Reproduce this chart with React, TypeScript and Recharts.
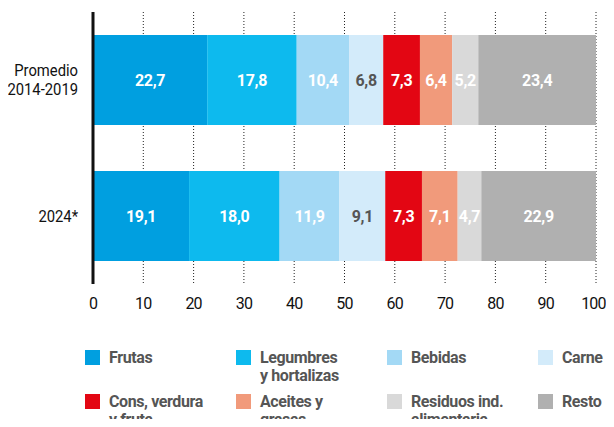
import { BarChart, Bar, XAxis, YAxis, CartesianGrid, LabelList } from 'recharts'

const periods = ['Promedio\n2014-2019', '2024*']
const seriesNames = [
  'Frutas',
  'Legumbres\ny hortalizas',
  'Bebidas',
  'Carne',
  'Cons, verdura\ny fruta',
  'Aceites y\ngrasas',
  'Residuos ind.\nalimentaria',
  'Resto',
]
const seriesKeys = ['frutas', 'legumbres', 'bebidas', 'carne', 'cons', 'aceites', 'residuos', 'resto']
const promedio = [22.7, 17.8, 10.4, 6.8, 7.3, 6.4, 5.2, 23.4]
const y2024 = [19.1, 18.0, 11.9, 9.1, 7.3, 7.1, 4.7, 22.9]
const colors = ['#009fe0', '#0dbaee', '#a3d9f5', '#d3ebfa', '#e30613', '#f19a7b', '#d9d9d9', '#b0b0b0']
const labelColors = ['#fff', '#fff', '#fff', '#555', '#fff', '#fff', '#fff', '#fff']
const xTicks = [0, 10, 20, 30, 40, 50, 60, 70, 80, 90, 100]

const rows = [promedio, y2024]
const data = periods.map((p, i) => {
  const row: Record<string, string | number> = { period: p }
  seriesKeys.forEach((k, j) => { row[k] = rows[i][j] })
  return row
})

const FONT = 'Roboto, "Noto Sans", sans-serif'

// condensed look: squeeze the period labels horizontally
const PeriodTick = (props: any) => {
  const { x, y, payload } = props
  const lines = String(payload.value).split('\n')
  const start = -((lines.length - 1) * 19) / 2
  return (
    <g transform={`translate(${x},${y}) scale(0.87,1)`}>
      <text x={0} y={0} textAnchor="end" fontFamily={FONT} fontSize={17} fill="#111">
        {lines.map((l, i) => (
          <tspan key={i} x={0} y={start + i * 19} dy="0.35em">{l}</tspan>
        ))}
      </text>
    </g>
  )
}

const fmt = (v: any) => Number(v).toFixed(1).replace('.', ',')

export default function App() {
  return (
    <div style={{ width: 598, height: 411, position: 'relative', fontFamily: FONT }}>
      <BarChart
        width={598}
        height={330}
        data={data}
        layout="vertical"
        margin={{ top: 4, right: 10, left: 0, bottom: 30 }}
        barSize={90}
      >
        <CartesianGrid vertical horizontal={false} stroke="#222" strokeDasharray="1 2" />
        <XAxis
          type="number"
          domain={[0, 100]}
          ticks={xTicks}
          allowDataOverflow
          axisLine={false}
          tickLine={false}
          tick={{ fill: '#111', fontSize: 16, fontFamily: FONT, letterSpacing: -0.8 }}
          tickMargin={8}
          height={24}
        />
        <YAxis
          type="category"
          dataKey="period"
          width={85}
          axisLine={{ stroke: '#111', strokeWidth: 3 }}
          tickLine={false}
          tick={<PeriodTick />}
          tickMargin={9}
        />
        {seriesKeys.map((k, j) => (
          <Bar key={k} dataKey={k} stackId="a" fill={colors[j]} isAnimationActive={false}>
            <LabelList
              dataKey={k}
              position="center"
              formatter={fmt}
              fill={labelColors[j]}
              style={{ fontSize: 16, fontWeight: 700, fontFamily: FONT, letterSpacing: -0.3 }}
            />
          </Bar>
        ))}
      </BarChart>
      <div style={{ position: 'absolute', left: 77, top: 341, width: 540, display: 'grid', gridTemplateColumns: 'repeat(4, 151px)' }}>
        {seriesNames.map((n, j) => (
          <div key={n} style={{ display: 'flex', alignItems: 'flex-start', height: 44 }}>
            <div style={{ width: 15, height: 15, background: colors[j], marginTop: 1, marginRight: 9, flexShrink: 0 }} />
            <div style={{ whiteSpace: 'pre', fontSize: 16, fontWeight: 700, lineHeight: '18px', letterSpacing: -0.4, color: '#555' }}>{n}</div>
          </div>
        ))}
      </div>
    </div>
  )
}
